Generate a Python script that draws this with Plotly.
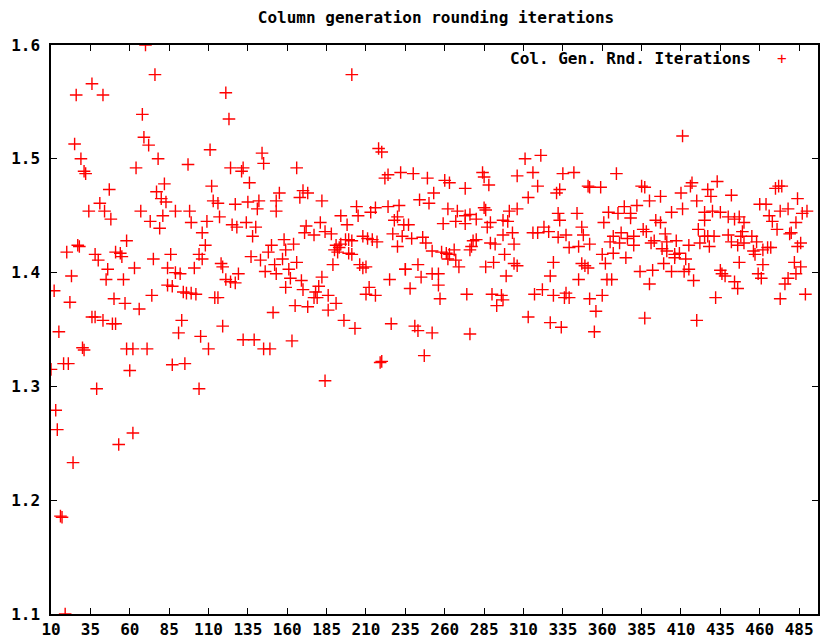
import plotly.graph_objects as go

title_text = "Column generation rounding iterations"
series_name = "Col. Gen. Rnd. Iterations"

x_ticks = list(range(10, 486, 25))
y_ticks = [1.1, 1.2, 1.3, 1.4, 1.5, 1.6]
y_tick_labels = ["1.1", "1.2", "1.3", "1.4", "1.5", "1.6"]

# (iteration, ratio)
iterations = [
    26, 36, 43, 70, 76, 68, 69, 72, 25, 29, 31, 32, 64, 78, 97, 47, 82, 77, 80, 83,
    41, 34, 44, 48, 67, 73, 81, 89, 98, 99, 79,
    20, 27, 28, 38, 40, 58, 51, 54, 55, 46, 45, 56, 63, 75, 86, 84, 89, 92, 84, 87,
    94, 96, 99, 102, 101, 104, 106, 108, 106, 23, 12, 22, 15, 10, 18, 21, 13, 39, 30, 31,
    36, 38, 43, 49, 51, 50, 57, 66, 74, 58, 62, 71, 60, 93, 91, 87, 95, 105, 110, 104,
    14, 24, 53, 62, 16, 17, 19,
    121, 123, 201, 111, 144, 145, 124, 132, 131, 136, 166, 112, 113, 116, 127, 135, 142, 141, 153, 155,
    153, 168, 170, 173, 182, 109, 117, 125, 128, 134, 140, 172, 181, 194, 198, 204, 205, 213, 216, 224,
    231, 218, 220, 222, 224, 232, 228, 230, 234,
    118, 119, 121, 124, 127, 129, 114, 116, 119, 132, 139, 145, 149, 163, 151, 138, 137, 143, 150, 148,
    152, 146, 153, 158, 159, 164, 157, 161, 166, 162, 159, 169, 170, 165, 173, 177, 179, 178, 180, 182,
    186, 191, 186, 196, 203, 184, 219, 220, 226, 225, 235, 212, 210, 216, 206, 208, 210, 189, 171, 177,
    184, 188, 191, 193, 194, 197, 199, 201, 190, 192, 199, 201, 208, 211, 214, 217, 227, 230,
    240, 249, 260, 263, 284, 285, 288, 273, 306, 311, 321, 316, 319, 313, 331, 333, 335, 342, 351, 352,
    253, 244, 250, 262, 268, 273, 276, 285, 286, 301, 306, 332, 333, 344, 289, 280, 297, 300, 237, 259,
    267, 273, 323, 347, 287,
    233, 239, 246, 248, 252, 258, 261, 263, 266, 262, 267, 269, 278, 280, 277, 276, 289, 292, 297, 303,
    304, 298, 286, 291, 304, 306, 299, 316, 319, 326, 332, 337, 348, 339, 345, 352, 360, 362, 329, 327,
    347, 349, 351, 345, 235, 243, 245, 252, 256, 256, 257, 238, 274, 290, 296, 297, 293, 317, 322, 329,
    336, 337, 339, 352, 360, 356, 313, 327, 334, 355, 241, 243, 252, 276, 247,
    411, 369, 359, 385, 387, 416, 417, 427, 429, 433, 442, 470, 472, 474, 484, 390, 397, 410, 420, 374,
    382, 364, 370, 378, 404, 411, 425, 430, 435, 460, 464, 466, 473, 478, 487, 490, 361, 378, 394, 397,
    425, 440, 444, 447, 450, 468, 483,
    367, 372, 371, 376, 380, 380, 365, 386, 388, 391, 393, 400, 401, 407, 398, 401, 406, 409, 406, 413,
    415, 421, 422, 425, 427, 428, 431, 440, 442, 446, 449, 448, 455, 450, 458, 456, 457, 462, 465, 467,
    471, 479, 480, 484, 486, 367, 375, 384, 392, 399, 404, 412, 415, 418, 390, 363, 366, 387, 420, 432,
    435, 436, 438, 444, 446, 447, 459, 461, 462, 473, 476, 478, 483, 482, 486, 489,
]

ratios = [
    1.556, 1.566, 1.556, 1.600, 1.574, 1.539, 1.519, 1.512, 1.513, 1.500, 1.489, 1.487, 1.492, 1.500, 1.495, 1.473, 1.478, 1.471, 1.465, 1.462,
    1.461, 1.454, 1.454, 1.447, 1.454, 1.445, 1.450, 1.454, 1.454, 1.444, 1.439,
    1.418, 1.424, 1.423, 1.416, 1.411, 1.428, 1.418, 1.417, 1.414, 1.403, 1.394, 1.394, 1.404, 1.412, 1.416, 1.404, 1.400, 1.399, 1.389, 1.388,
    1.383, 1.382, 1.382, 1.381, 1.404, 1.416, 1.412, 1.424, 1.435, 1.397, 1.384, 1.374, 1.348, 1.315, 1.320, 1.320, 1.279, 1.298, 1.334, 1.332,
    1.361, 1.361, 1.358, 1.355, 1.355, 1.377, 1.373, 1.368, 1.380, 1.333, 1.333, 1.333, 1.314, 1.358, 1.347, 1.319, 1.320, 1.344, 1.333, 1.298,
    1.262, 1.233, 1.249, 1.259, 1.186, 1.185, 1.100,
    1.558, 1.535, 1.574, 1.508, 1.505, 1.496, 1.492, 1.492, 1.489, 1.479, 1.492, 1.476, 1.463, 1.461, 1.460, 1.462, 1.463, 1.456, 1.463, 1.470,
    1.454, 1.466, 1.472, 1.470, 1.463, 1.445, 1.449, 1.442, 1.440, 1.444, 1.440, 1.441, 1.444, 1.450, 1.442, 1.458, 1.450, 1.453, 1.457, 1.458,
    1.459, 1.509, 1.506, 1.483, 1.486, 1.488, 1.446, 1.449, 1.442,
    1.408, 1.405, 1.394, 1.392, 1.391, 1.399, 1.378, 1.378, 1.353, 1.341, 1.341, 1.333, 1.333, 1.340, 1.365, 1.432, 1.414, 1.411, 1.424, 1.418,
    1.407, 1.401, 1.399, 1.429, 1.420, 1.425, 1.412, 1.403, 1.409, 1.395, 1.387, 1.393, 1.385, 1.371, 1.370, 1.378, 1.378, 1.383, 1.388, 1.396,
    1.380, 1.373, 1.367, 1.358, 1.351, 1.305, 1.321, 1.322, 1.355, 1.394, 1.403, 1.387, 1.381, 1.380, 1.407, 1.404, 1.405, 1.407, 1.435, 1.433,
    1.436, 1.434, 1.424, 1.422, 1.425, 1.429, 1.429, 1.428, 1.420, 1.418, 1.417, 1.416, 1.432, 1.430, 1.429, 1.427, 1.434, 1.423,
    1.487, 1.483, 1.481, 1.479, 1.488, 1.484, 1.477, 1.474, 1.485, 1.500, 1.503, 1.488, 1.476, 1.466, 1.470, 1.473, 1.487, 1.488, 1.476, 1.475,
    1.470, 1.464, 1.461, 1.456, 1.454, 1.450, 1.451, 1.457, 1.455, 1.454, 1.456, 1.452, 1.446, 1.452, 1.444, 1.447, 1.446, 1.445, 1.442, 1.443,
    1.445, 1.443, 1.440, 1.440, 1.440,
    1.432, 1.430, 1.431, 1.426, 1.419, 1.418, 1.417, 1.416, 1.420, 1.412, 1.411, 1.405, 1.428, 1.429, 1.423, 1.420, 1.426, 1.425, 1.433, 1.435,
    1.425, 1.416, 1.405, 1.409, 1.408, 1.406, 1.397, 1.435, 1.435, 1.436, 1.431, 1.433, 1.433, 1.422, 1.423, 1.425, 1.416, 1.408, 1.409, 1.397,
    1.408, 1.406, 1.404, 1.394, 1.403, 1.407, 1.396, 1.399, 1.399, 1.389, 1.377, 1.386, 1.381, 1.381, 1.380, 1.376, 1.371, 1.381, 1.385, 1.380,
    1.378, 1.382, 1.378, 1.377, 1.380, 1.366, 1.361, 1.356, 1.352, 1.348, 1.353, 1.349, 1.347, 1.346, 1.327,
    1.520, 1.487, 1.475, 1.476, 1.475, 1.476, 1.479, 1.473, 1.467, 1.480, 1.468, 1.474, 1.476, 1.476, 1.465, 1.463, 1.467, 1.470, 1.463, 1.458,
    1.459, 1.453, 1.452, 1.452, 1.453, 1.456, 1.453, 1.454, 1.453, 1.460, 1.460, 1.450, 1.454, 1.456, 1.452, 1.454, 1.444, 1.448, 1.446, 1.444,
    1.446, 1.449, 1.447, 1.449, 1.444, 1.445, 1.444,
    1.432, 1.435, 1.426, 1.430, 1.432, 1.424, 1.427, 1.438, 1.436, 1.426, 1.428, 1.434, 1.427, 1.428, 1.421, 1.419, 1.416, 1.417, 1.413, 1.412,
    1.424, 1.438, 1.426, 1.432, 1.432, 1.423, 1.432, 1.433, 1.427, 1.424, 1.436, 1.432, 1.432, 1.426, 1.427, 1.419, 1.416, 1.420, 1.422, 1.422,
    1.438, 1.434, 1.435, 1.423, 1.426, 1.417, 1.413, 1.401, 1.402, 1.408, 1.401, 1.401, 1.403, 1.393, 1.390, 1.394, 1.394, 1.360, 1.358, 1.378,
    1.402, 1.399, 1.397, 1.392, 1.386, 1.409, 1.399, 1.395, 1.407, 1.377, 1.390, 1.395, 1.399, 1.409, 1.405, 1.381,
]

FONT = "DejaVu Sans Mono"

fig = go.Figure()
fig.add_trace(go.Scatter(
    x=iterations, y=ratios, mode="markers", name=series_name,
    marker=dict(symbol="cross-thin", size=9, color="red",
                line=dict(width=1.4, color="red")),
    showlegend=False,
))

axis_common = dict(
    showgrid=False, zeroline=False, showline=True, linecolor="black", linewidth=1.5,
    mirror="ticks", ticks="inside", ticklen=6, tickwidth=1, tickcolor="black",
    tickfont=dict(family=FONT, size=16, color="black", weight="bold"),
)

fig.update_layout(
    width=821, height=643,
    margin=dict(l=51, r=1, t=45, b=29, pad=0),
    paper_bgcolor="white", plot_bgcolor="white",
    title=dict(text=title_text, x=0.502, xref="paper", xanchor="center",
               y=1 - 17 / 643, yref="container", yanchor="middle",
               font=dict(family=FONT, size=16, color="black", weight="bold")),
    xaxis=dict(range=[10, 497], tickvals=x_ticks, **axis_common),
    yaxis=dict(range=[1.1, 1.6], tickvals=y_ticks, ticktext=y_tick_labels,
               ticklabelstandoff=6, **axis_common),
    annotations=[
        dict(text=series_name, xref="paper", yref="paper", x=0.915, y=0.977,
             xanchor="right", yanchor="middle", showarrow=False,
             font=dict(family=FONT, size=16, color="black", weight="bold")),
        dict(text="+", xref="paper", yref="paper", x=0.953, y=0.977,
             xanchor="center", yanchor="middle", showarrow=False,
             font=dict(family=FONT, size=16, color="red")),
    ],
)

fig.write_html(
    "out.html",
    config={"displayModeBar": False},
    post_script="document.body.style.margin='0';document.body.style.overflow='hidden';",
)
